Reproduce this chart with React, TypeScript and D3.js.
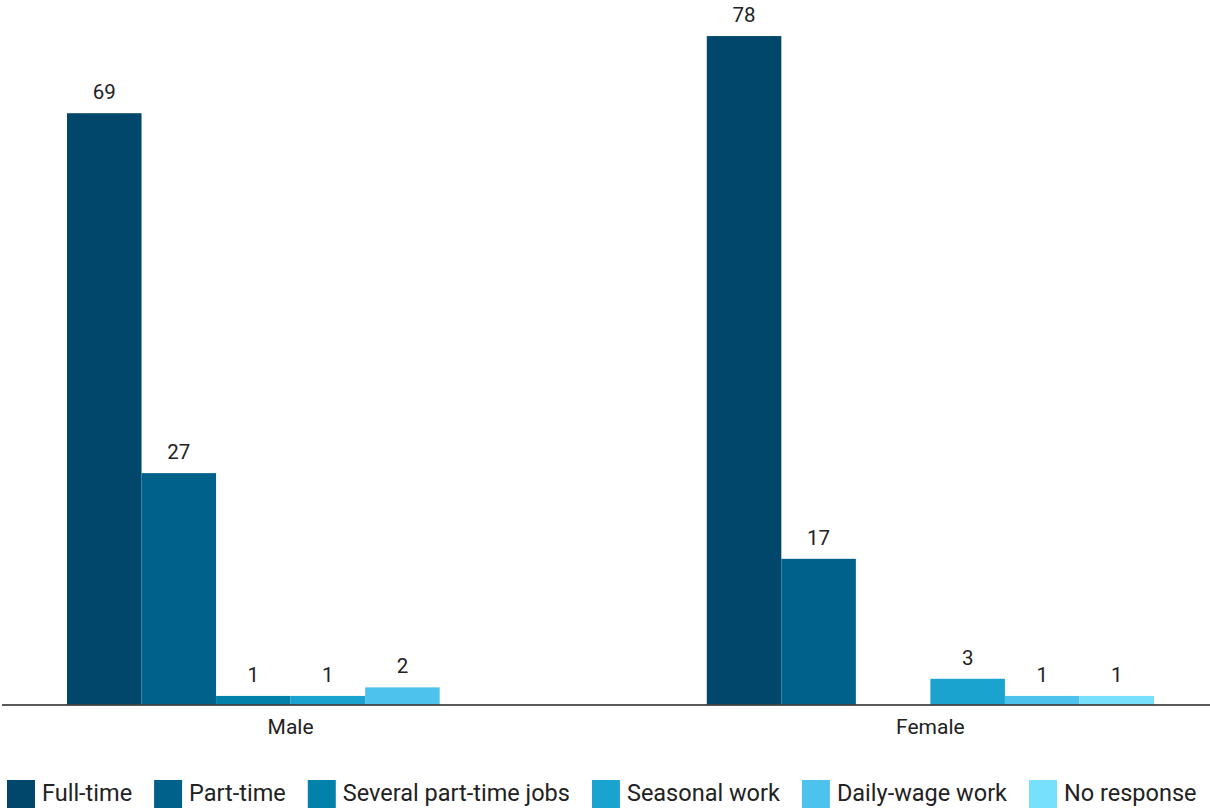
import React, { useEffect, useRef } from "react";
import * as d3 from "d3";

const categories = ["Male", "Female"];
const seriesNames = [
  "Full-time",
  "Part-time",
  "Several part-time jobs",
  "Seasonal work",
  "Daily-wage work",
  "No response",
];
const maleValues = [69, 27, 1, 1, 2, 0];
const femaleValues = [78, 17, 0, 3, 1, 1];
const colors = ["#01466b", "#00628a", "#0282aa", "#1ba3cf", "#4dc2ed", "#77e0fb"];

const W = 1210;
const H = 810;
const FONT = "Roboto, 'Noto Sans', sans-serif";

export default function App() {
  const ref = useRef<SVGSVGElement | null>(null);

  useEffect(() => {
    const svg = d3.select(ref.current);
    svg.selectAll("*").remove();

    const data = [maleValues, femaleValues];
    const baseline = 704.5;

    const x0 = d3.scaleBand<string>().domain(categories).range([67, 1154]).paddingInner(0.301).paddingOuter(0);
    const x1 = d3.scaleBand<string>().domain(seriesNames).range([0, x0.bandwidth()]).padding(0);
    const y = d3.scaleLinear().domain([0, 69]).range([baseline, 113.2]);

    const g = svg.append("g");

    categories.forEach((cat, ci) => {
      const gg = g.append("g").attr("transform", `translate(${x0(cat)},0)`);
      seriesNames.forEach((s, si) => {
        const v = data[ci][si];
        if (v <= 0) return;
        gg.append("rect")
          .attr("x", x1(s)!)
          .attr("y", y(v))
          .attr("width", x1.bandwidth())
          .attr("height", baseline - y(v))
          .attr("fill", colors[si]);
        gg.append("text")
          .attr("x", x1(s)! + x1.bandwidth() / 2)
          .attr("y", y(v) - 14)
          .attr("text-anchor", "middle")
          .attr("font-family", FONT)
          .attr("font-size", 20.5)
          .attr("fill", "#222")
          .text(String(v));
      });
      g.append("text")
        .attr("x", x0(cat)! + x0.bandwidth() / 2)
        .attr("y", 734)
        .attr("text-anchor", "middle")
        .attr("font-family", FONT)
        .attr("font-size", 21)
        .attr("fill", "#222")
        .text(cat);
    });

    g.append("line")
      .attr("x1", 2)
      .attr("x2", 1210)
      .attr("y1", baseline + 0.5)
      .attr("y2", baseline + 0.5)
      .attr("stroke", "#222")
      .attr("stroke-width", 1.5);

    // legend
    const lg = svg.append("g");
    let cx = 7;
    seriesNames.forEach((s, si) => {
      lg.append("rect")
        .attr("x", cx)
        .attr("y", 780)
        .attr("width", 28)
        .attr("height", 28)
        .attr("fill", colors[si]);
      const t = lg.append("text")
        .attr("x", cx + 35)
        .attr("y", 800.5)
        .attr("font-family", FONT)
        .attr("font-size", 23.5)
        .attr("fill", "#222")
        .text(s);
      const w = (t.node() as SVGTextElement).getComputedTextLength();
      cx = cx + 35 + w + 22;
    });
  }, []);

  return (
    <svg
      ref={ref}
      width={W}
      height={H}
      style={{ position: "absolute", left: 0, top: 0, background: "#fff" }}
    />
  );
}
